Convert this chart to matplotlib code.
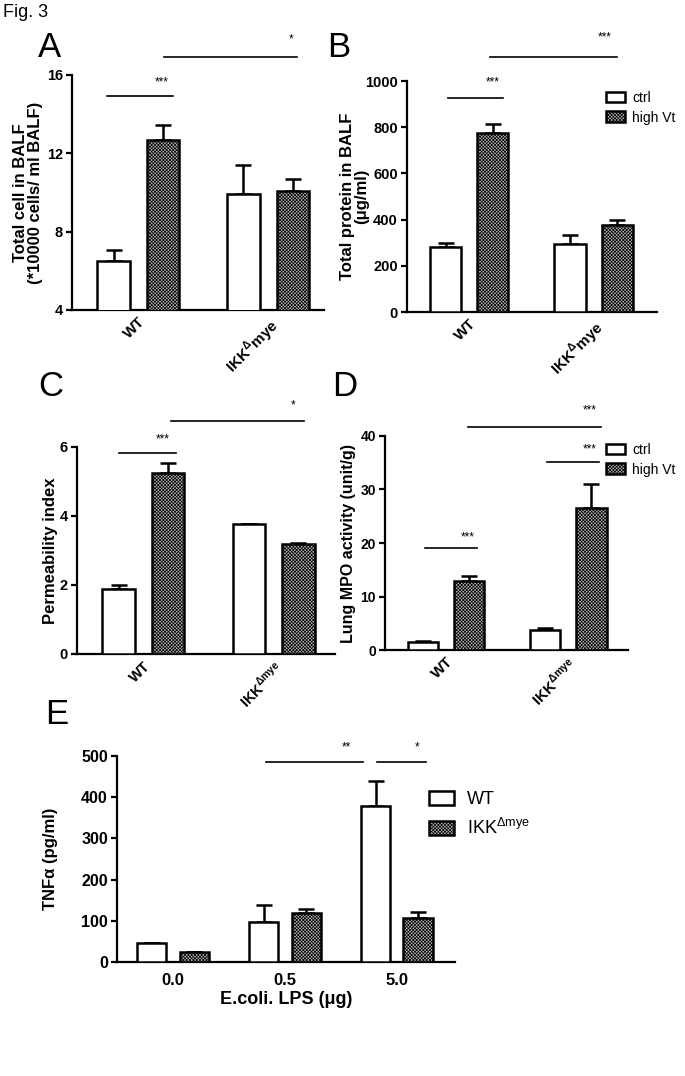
import numpy as np
import matplotlib
matplotlib.use('Agg')
from matplotlib import pyplot as plt

plt.rcParams['font.family'] = ['Liberation Sans', 'DejaVu Sans']
plt.rcParams['hatch.linewidth'] = 0.5
plt.rcParams['mathtext.fontset'] = 'custom'
plt.rcParams['mathtext.rm'] = 'Liberation Sans'
plt.rcParams['mathtext.bf'] = 'Liberation Sans:bold'
plt.rcParams['axes.linewidth'] = 1.6

TICKFONT = ['Liberation Sans', 'DejaVu Sans']
HATCH_FACE = '#b4b4b4'
HATCH = 'x' * 10

# ---- data ----
groups_ab = ['WT', r'IKK$^{\mathbf{Δ}}$mye']
groups_cd = ['WT', r'IKK$^{\mathbf{Δmye}}$']
series_names = ['ctrl', 'high Vt']

# A: total cells in BALF
a_ctrl = [6.5, 9.9]
a_ctrl_err = [0.55, 1.5]
a_high = [12.7, 10.1]
a_high_err = [0.75, 0.6]

# B: total protein in BALF
b_ctrl = [281, 294]
b_ctrl_err = [18, 39]
b_high = [775, 376]
b_high_err = [39, 22]

# C: permeability index
c_ctrl = [1.88, 3.77]
c_ctrl_err = [0.12, 0.0]
c_high = [5.25, 3.19]
c_high_err = [0.29, 0.02]

# D: lung MPO activity
d_ctrl = [1.5, 3.7]
d_ctrl_err = [0.2, 0.5]
d_high = [12.9, 26.5]
d_high_err = [0.9, 4.5]

# E: TNF alpha vs LPS dose
lps = ['0.0', '0.5', '5.0']
e_wt = [46, 97, 379]
e_wt_err = [1, 41, 60]
e_ikk = [24, 119, 107]
e_ikk_err = [1, 10, 14]

# significance bars: (x0, x1, y_line, x_text, y_text, label)
sig_a = [(-0.24, 0.27, 14.93, 0.18, 15.64, '***'), (0.20, 1.22, 16.92, 1.18, 17.84, '*')]
sig_b = [(-0.17, 0.27, 926, 0.19, 996, '***'), (0.17, 1.19, 1104, 1.09, 1190, '***')]
sig_c = [(-0.19, 0.25, 5.83, 0.15, 6.23, '***'), (0.21, 1.23, 6.75, 1.15, 7.19, '*')]
sig_d = [(-0.17, 0.25, 19.1, 0.18, 21.1, '***'), (0.83, 1.25, 35.1, 1.18, 37.4, '***'),
         (0.18, 1.27, 41.7, 1.18, 44.7, '***')]
sig_e = [(0.83, 1.70, 485, 1.55, 522, '**'), (1.82, 2.26, 485, 2.18, 522, '*')]


fig = plt.figure(figsize=(6.85, 10.76), dpi=100)


def bar_panel(rect, s1, s1_err, s2, s2_err, ylim, yticks, sig, width=0.25, off=0.19, ticksize=10.5):
	ax = fig.add_axes(rect)
	x = np.arange(len(s1))
	b1 = ax.bar(x - off, s1, width, color='white', edgecolor='black', linewidth=1.8, zorder=3)
	b2 = ax.bar(x + off, s2, width, color=HATCH_FACE, edgecolor='black', linewidth=1.8,
				hatch=HATCH, zorder=3)
	for xs, ys, es in [(x - off, s1, s1_err), (x + off, s2, s2_err)]:
		ax.errorbar(xs, ys, yerr=[np.zeros(len(es)), es], fmt='none', ecolor='black',
					elinewidth=1.8, capsize=6, capthick=1.8, zorder=2)
	ax.set_ylim(*ylim)
	ax.set_yticks(yticks)
	ax.spines['top'].set_visible(False)
	ax.spines['right'].set_visible(False)
	ax.tick_params(axis='y', direction='out', length=4, width=1.6, pad=2.5)
	ax.tick_params(axis='x', length=0)
	for t in ax.get_yticklabels():
		t.set_family(TICKFONT)
		t.set_fontweight('bold')
		t.set_fontsize(ticksize)
	for x0, x1, yl, xt, yt, lab in sig:
		ax.plot([x0, x1], [yl, yl], color='black', lw=1.2, clip_on=False)
		ax.text(xt, yt, lab, ha='center', va='center', fontsize=8.5, clip_on=False)
	return ax, b1, b2


def small_legend(handles, y_px):
	fig.legend(handles, series_names, loc='upper left', bbox_to_anchor=(606 / 685, 1 - y_px / 1076),
			   frameon=False, prop={'size': 10}, handlelength=1.4, handleheight=0.8,
			   handletextpad=0.5, labelspacing=0.4, borderpad=0, borderaxespad=0)


# ---- A ----
axA, _, _ = bar_panel([0.1051, 0.7119, 0.3679, 0.2184], a_ctrl, a_ctrl_err, a_high, a_high_err,
					  (4, 16), [4, 8, 12, 16], sig_a)
axA.set_xlim(-0.51, 1.43)
axA.set_xticks([0, 1])
axA.set_xticklabels(groups_ab, rotation=45, ha='right', rotation_mode='anchor',
					fontweight='bold', fontsize=11)
axA.set_ylabel('Total cell in BALF\n(*10000 cells/ ml BALF)', fontweight='bold', fontsize=12,
			   linespacing=1.0)
axA.yaxis.set_label_coords(-0.115, 0.5)

# ---- B ----
axB, hb1, hb2 = bar_panel([0.5942, 0.7100, 0.365, 0.2147], b_ctrl, b_ctrl_err, b_high, b_high_err,
						  (0, 1000), [0, 200, 400, 600, 800, 1000], sig_b)
axB.set_xlim(-0.50, 1.51)
axB.set_xticks([0, 1])
axB.set_xticklabels(groups_ab, rotation=45, ha='right', rotation_mode='anchor',
					fontweight='bold', fontsize=11)
axB.set_ylabel('Total protein in BALF\n(μg/ml)', fontweight='bold', fontsize=12, linespacing=1.0)
axB.yaxis.set_label_coords(-0.15, 0.5)
small_legend([hb1, hb2], 91)

# ---- C ----
axC, _, _ = bar_panel([0.1124, 0.3922, 0.3766, 0.1924], c_ctrl, c_ctrl_err, c_high, c_high_err,
					  (0, 6), [0, 2, 4, 6], sig_c)
axC.set_xlim(-0.51, 1.47)
axC.set_xticks([0, 1])
axC.set_xticklabels(groups_cd, rotation=45, ha='right', rotation_mode='anchor',
					fontweight='bold', fontsize=10.5)
axC.set_ylabel('Permeability index', fontweight='bold', fontsize=12)
axC.yaxis.set_label_coords(-0.075, 0.5)

# ---- D ----
axD, hd1, hd2 = bar_panel([0.5620, 0.3959, 0.3547, 0.1989], d_ctrl, d_ctrl_err, d_high, d_high_err,
						  (0, 40), [0, 10, 20, 30, 40], sig_d, ticksize=10)
axD.set_xlim(-0.50, 1.49)
axD.set_xticks([0, 1])
axD.set_xticklabels(groups_cd, rotation=45, ha='right', rotation_mode='anchor',
					fontweight='bold', fontsize=11)
axD.set_ylabel('Lung MPO activity (unit/g)', fontweight='bold', fontsize=11.5)
axD.yaxis.set_label_coords(-0.12, 0.5)
small_legend([hd1, hd2], 443)

# ---- E ----
axE, he1, he2 = bar_panel([0.1708, 0.1059, 0.4934, 0.1914], e_wt, e_wt_err, e_ikk, e_ikk_err,
						  (0, 500), [0, 100, 200, 300, 400, 500], sig_e, width=0.26,
						  off=0.19, ticksize=11.5)
axE.set_xlim(-0.5, 2.52)
axE.set_xticks([0, 1, 2])
axE.set_xticklabels(lps, fontweight='bold', fontsize=12)
axE.tick_params(axis='x', pad=8)
axE.set_xlabel('E.coli. LPS (μg)', fontweight='bold', fontsize=13, labelpad=2)
axE.set_ylabel('TNFα (pg/ml)', fontweight='bold', fontsize=12)
axE.yaxis.set_label_coords(-0.175, 0.5)
fig.legend([he1, he2], ['WT', r'IKK$^{\mathregular{Δmye}}$'], loc='upper left',
		   bbox_to_anchor=(429 / 685, 1 - 791 / 1076), frameon=False, prop={'size': 13},
		   handlelength=1.4, handleheight=0.8, handletextpad=0.7, labelspacing=0.55,
		   borderpad=0, borderaxespad=0)

# panel letters
fig.text(3 / 685, 1 - 4 / 1076, 'Fig. 3', fontsize=13, va='top', ha='left')
for lab, px, py in [('A', 38, 31), ('B', 327, 31), ('C', 38, 370), ('D', 332, 370), ('E', 45, 698)]:
	fig.text(px / 685, 1 - py / 1076, lab, fontsize=25, va='top', ha='left')

fig.savefig('out.png', dpi=100)
